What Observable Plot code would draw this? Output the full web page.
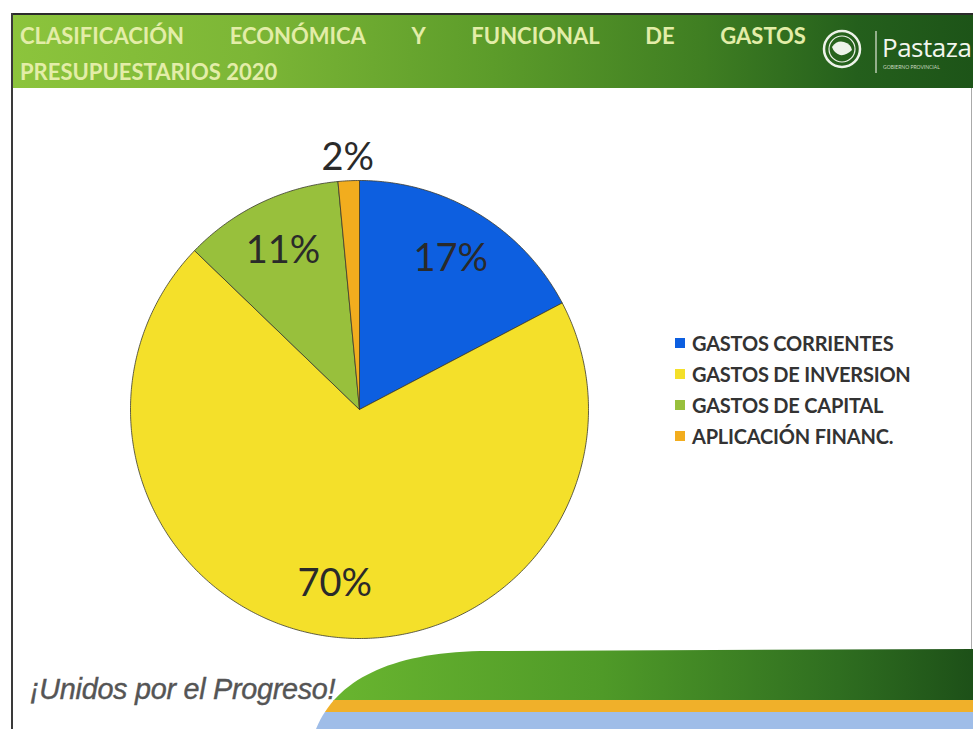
<!DOCTYPE html>
<html>
<head>
<meta charset="utf-8">
<script src="https://cdn.jsdelivr.net/npm/d3@7"></script>
<script src="https://cdn.jsdelivr.net/npm/@observablehq/plot@0.6"></script>
<style>
  html, body { margin: 0; padding: 0; background: #fff; }
  body { width: 973px; height: 729px; position: relative; overflow: hidden; font-family: Lato, "Open Sans", sans-serif; }
  #frameTop { position: absolute; left: 11px; top: 13px; width: 962px; height: 2px; background: #2b2b2b; }
  #frameLeft { position: absolute; left: 11px; top: 13px; width: 2px; height: 716px; background: #3a3a3a; }
  #frameRight { position: absolute; left: 971px; top: 88px; width: 1px; height: 600px; background: #aaa; }
  #header { position: absolute; left: 13px; top: 15px; width: 960px; height: 73px;
    background: linear-gradient(90deg, #8cc43c 0%, #7cb636 25%, #5c9c2a 50%, #3f7e22 72%, #245f1c 88%, #1d5418 100%); overflow: hidden; }
  #t1 { position: absolute; left: 7px; top: 10px; width: 786px; display: flex; justify-content: space-between;
    color: #e3eda8; font-size: 22px; font-weight: 700; line-height: 1; }
  #t2 { position: absolute; left: 7px; top: 46px; color: #e3eda8; font-size: 22px; font-weight: 700; line-height: 1; }
  #logo { position: absolute; left: 808px; top: 12px; }
  #pastaza { position: absolute; left: 869px; top: 19px; color: #f2f6ee; font-size: 26px; line-height: 1; font-family: "Open Sans", sans-serif; white-space: nowrap; letter-spacing: -0.5px; }
  #pastazaSub { position: absolute; left: 870px; top: 50px; color: #c9d8c0; font-size: 5px; line-height: 1; white-space: nowrap; }
  #chart { position: absolute; left: 0; top: 90px; }
  #legend { position: absolute; left: 675px; top: 327px; }
  .li { display: flex; align-items: center; height: 31px; font-weight: 700; font-size: 20px; color: #333; white-space: nowrap; letter-spacing: -0.2px; }
  .sw { width: 10px; height: 10px; margin-right: 7px; }
  #footer { position: absolute; left: 0; top: 640px; }
  #slogan { position: absolute; left: 30px; top: 674px; font-family: "Liberation Sans", Arial, sans-serif; font-style: italic;
    font-size: 30px; line-height: 1; color: #555; white-space: nowrap; transform: scaleX(0.96); transform-origin: left; letter-spacing: -0.3px; -webkit-text-stroke: 0.4px #555; }
</style>
</head>
<body>
<div id="header">
  <div id="t1"><span>CLASIFICACIÓN</span><span>ECONÓMICA</span><span>Y</span><span>FUNCIONAL</span><span>DE</span><span>GASTOS</span></div>
  <div id="t2">PRESUPUESTARIOS 2020</div>
  <svg id="logo" width="58" height="50">
    <circle cx="21" cy="22" r="18" fill="none" stroke="#eef3ea" stroke-width="2.5"/>
    <circle cx="21" cy="22" r="13" fill="none" stroke="#eef3ea" stroke-width="1.2"/>
    <path d="M11 20 Q16 13 23 15 Q30 17 31 23 Q25 29 19 28 Q13 26 11 20 Z" fill="#eef3ea"/>
    <line x1="55" y1="4" x2="55" y2="46" stroke="#dfe8d8" stroke-width="1.2"/>
  </svg>
  <div id="pastaza">Pastaza</div>
  <div id="pastazaSub">GOBIERNO PROVINCIAL</div>
</div>
<div id="frameTop"></div>
<div id="frameLeft"></div>
<div id="frameRight"></div>
<div id="chart"></div>
<div id="legend"></div>
<svg id="footer" width="973" height="89">
  <defs>
    <linearGradient id="gg" x1="0" x2="1" y1="0" y2="0">
      <stop offset="0" stop-color="#6cb830"/>
      <stop offset="0.45" stop-color="#4f9a28"/>
      <stop offset="0.8" stop-color="#2f6e20"/>
      <stop offset="1" stop-color="#1d5018"/>
    </linearGradient>
    <clipPath id="swoosh">
      <path d="M316 89 C 336 40, 390 13, 480 11 L 973 9 L 973 89 Z"/>
    </clipPath>
  </defs>
  <g clip-path="url(#swoosh)">
    <rect x="300" y="0" width="673" height="61" fill="url(#gg)"/>
    <rect x="300" y="60" width="673" height="12" fill="#f0b02a"/>
    <rect x="300" y="72" width="673" height="17" fill="#9fbde8"/>
  </g>
</svg>
<div id="slogan">¡Unidos por el Progreso!</div>
<script>
// Data
const categories = ["GASTOS CORRIENTES", "GASTOS DE INVERSION", "GASTOS DE CAPITAL", "APLICACIÓN FINANC."];
const shares = [17.3, 69.9, 11.3, 1.5];   // percent of total
const labels = ["17%", "70%", "11%", "2%"];
const colors = ["#0d5fe0", "#f4e02a", "#98c03c", "#f2ad1e"];

const data = categories.map((c, i) => ({cat: c, value: shares[i], label: labels[i]}));
const arcs = d3.pie().value(d => d.value).sort(null)(data);

// polygon outline for each slice, in unit-circle coordinates (angle clockwise from top)
const outline = [];
for (const a of arcs) {
  const n = Math.max(4, Math.ceil((a.endAngle - a.startAngle) / 0.01));
  outline.push({cat: a.data.cat, x: 0, y: 0});
  for (let k = 0; k <= n; k++) {
    const t = a.startAngle + (a.endAngle - a.startAngle) * k / n;
    outline.push({cat: a.data.cat, x: Math.sin(t), y: Math.cos(t)});
  }
  outline.push({cat: a.data.cat, x: 0, y: 0});
}
const labelPts = arcs.map(a => {
  const m = (a.startAngle + a.endAngle) / 2;
  const r = a.data.value < 5 ? 1.1 : 0.77;
  return {label: a.data.label, x: r * Math.sin(m), y: r * Math.cos(m)};
});

const cx = 359, cy = 319, R = 229;
const plot = Plot.plot({
  width: 973,
  height: 560,
  margin: 0,
  x: {domain: [-1, 1], range: [cx - R, cx + R], axis: null},
  y: {domain: [-1, 1], range: [cy + R, cy - R], axis: null},
  color: {domain: categories, range: colors},
  style: {background: "transparent", overflow: "visible"},
  marks: [
    Plot.line(outline, {x: "x", y: "y", z: "cat", fill: "cat", stroke: "#3b3b2e", strokeWidth: 1, strokeOpacity: 0.8, curve: "linear"}),
    Plot.text(labelPts, {x: "x", y: "y", text: "label", fontSize: 38, fill: "#2a2a2a", fontFamily: "Lato, 'Open Sans', sans-serif"})
  ]
});
document.getElementById("chart").appendChild(plot);

const legend = document.getElementById("legend");
categories.forEach((c, i) => {
  const row = document.createElement("div");
  row.className = "li";
  const sw = document.createElement("span");
  sw.className = "sw";
  sw.style.background = colors[i];
  row.appendChild(sw);
  row.appendChild(document.createTextNode(c));
  legend.appendChild(row);
});
</script>
</body>
</html>
